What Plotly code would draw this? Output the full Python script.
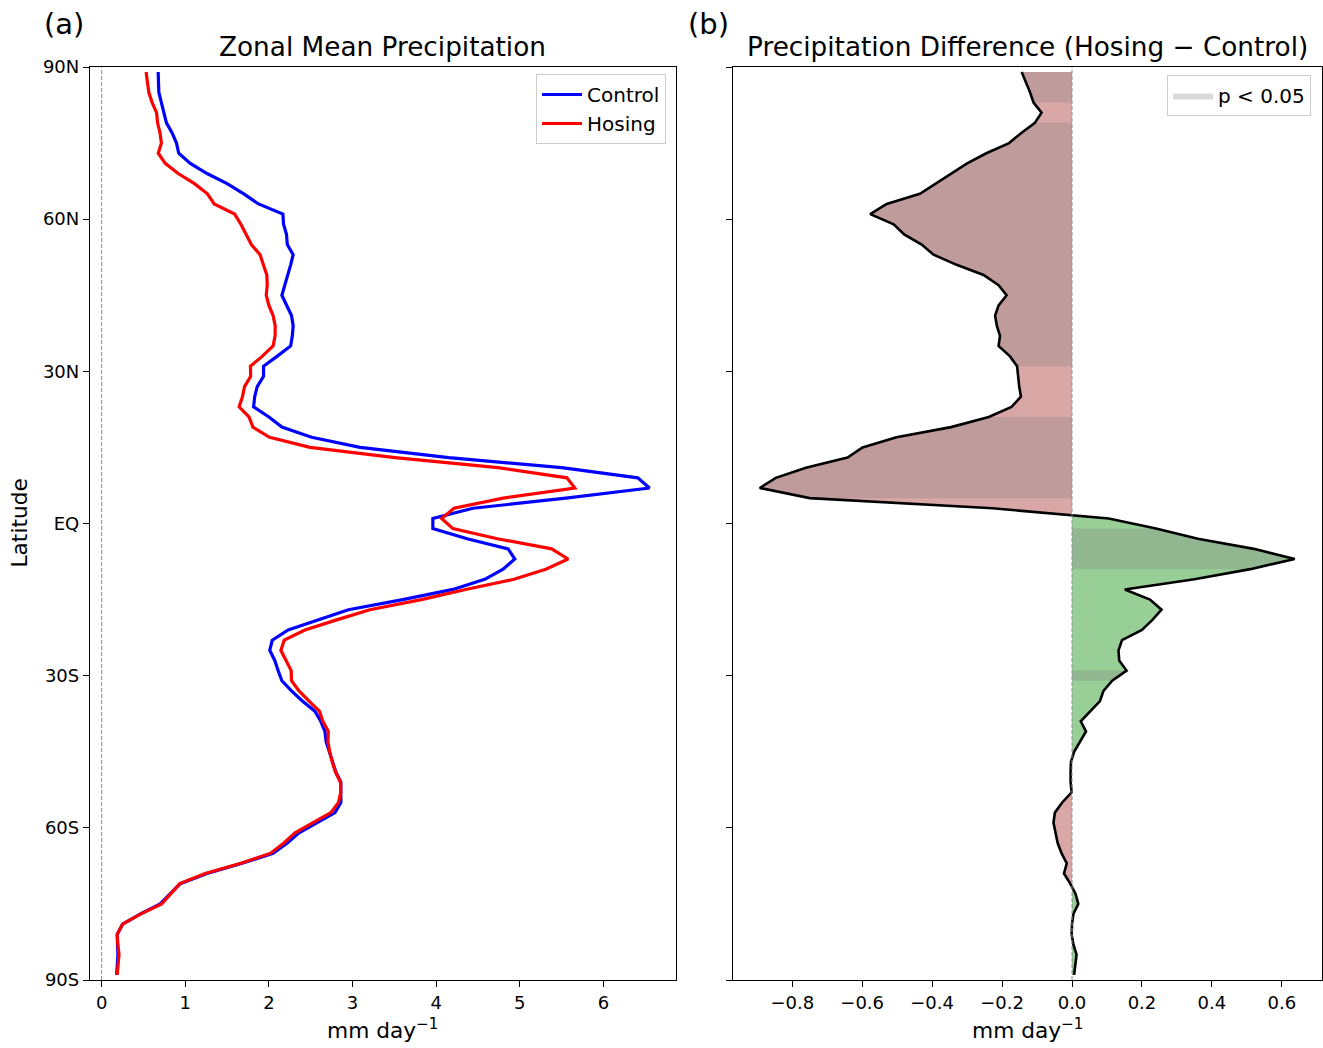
import numpy as np
import plotly.graph_objects as go

# ---------------- data ----------------
LATITUDES = list(range(-89, 90, 2))  # 2-degree grid, south -> north

CONTROL = [
    0.180, 0.187, 0.195, 0.190, 0.187, 0.250, 0.460, 0.700, 0.820, 0.940,   # -89..-71
    1.260, 1.680, 2.050, 2.220, 2.360, 2.580, 2.790, 2.860, 2.860, 2.860,   # -69..-51
    2.800, 2.760, 2.720, 2.684, 2.670, 2.620, 2.550, 2.400, 2.270, 2.155,   # -49..-31
    2.110, 2.070, 2.010, 2.040, 2.230, 2.580, 2.950, 3.600, 4.200, 4.580,   # -29..-11
    4.800, 4.940, 4.860, 4.370, 3.960, 3.960, 4.440, 5.550, 6.550, 6.410,   # -9..9
    5.500, 4.150, 3.090, 2.510, 2.155, 2.000, 1.817, 1.830, 1.860, 1.936,   # 11..29
    1.936, 2.100, 2.260, 2.280, 2.290, 2.270, 2.210, 2.155, 2.190, 2.228,   # 31..49
    2.260, 2.290, 2.220, 2.210, 2.175, 2.167, 1.876, 1.700, 1.500, 1.260,   # 51..69
    1.060, 0.922, 0.895, 0.843, 0.775, 0.744, 0.713, 0.684, 0.680, 0.676,   # 71..89
]

HOSING = [
    0.186, 0.196, 0.208, 0.194, 0.186, 0.250, 0.464, 0.718, 0.830, 0.935,
    1.237, 1.665, 2.020, 2.179, 2.312, 2.527, 2.741, 2.832, 2.859, 2.856,
    2.796, 2.757, 2.726, 2.706, 2.710, 2.645, 2.604, 2.480, 2.360, 2.270,
    2.266, 2.205, 2.143, 2.183, 2.430, 2.810, 3.206, 3.823, 4.351, 4.930,
    5.310, 5.577, 5.380, 4.730, 4.200, 4.065, 4.213, 4.800, 5.657, 5.563,
    4.739, 3.508, 2.491, 2.008, 1.809, 1.762, 1.644, 1.684, 1.709, 1.782,
    1.779, 1.922, 2.050, 2.074, 2.075, 2.050, 2.000, 1.968, 1.980, 1.975,
    1.930, 1.894, 1.790, 1.730, 1.665, 1.590, 1.346, 1.265, 1.110, 0.915,
    0.760, 0.677, 0.715, 0.698, 0.669, 0.657, 0.603, 0.564, 0.549, 0.532,
]

DIFF = [  # Hosing - Control
    0.006, 0.009, 0.013, 0.004, -0.001, 0.000, 0.004, 0.018, 0.010, -0.005,
    -0.023, -0.015, -0.030, -0.041, -0.048, -0.053, -0.049, -0.028, -0.001, -0.004,
    -0.004, -0.003, 0.006, 0.022, 0.040, 0.025, 0.054, 0.080, 0.090, 0.115,
    0.156, 0.135, 0.133, 0.143, 0.200, 0.230, 0.256, 0.223, 0.151, 0.350,
    0.510, 0.637, 0.520, 0.360, 0.240, 0.105, -0.227, -0.750, -0.893, -0.847,
    -0.761, -0.642, -0.599, -0.502, -0.346, -0.238, -0.173, -0.146, -0.151, -0.154,
    -0.157, -0.178, -0.210, -0.206, -0.215, -0.220, -0.210, -0.187, -0.210, -0.253,
    -0.330, -0.396, -0.430, -0.480, -0.510, -0.577, -0.530, -0.435, -0.390, -0.345,
    -0.300, -0.245, -0.180, -0.145, -0.106, -0.087, -0.110, -0.120, -0.131, -0.144,
]

SIGNIFICANT = [  # 1 where p < 0.05
    0, 0, 0, 0, 0, 0, 0, 0, 0, 0,
    0, 0, 0, 0, 0, 0, 0, 0, 0, 0,
    0, 0, 0, 0, 0, 0, 0, 0, 0, 1,
    1, 0, 0, 0, 0, 0, 0, 0, 0, 0,
    1, 1, 1, 1, 1, 0, 0, 1, 1, 1,
    1, 1, 1, 1, 1, 1, 0, 0, 0, 0,
    1, 1, 1, 1, 1, 1, 1, 1, 1, 1,
    1, 1, 1, 1, 1, 1, 1, 1, 1, 1,
    1, 1, 1, 1, 1, 0, 1, 1, 1, 1,
]

LAT_TICKS = [-90, -60, -30, 0, 30, 60, 90]
LAT_TICK_LABELS = ["90S", "60S", "30S", "EQ", "30N", "60N", "90N"]
X1_TICKS = [0, 1, 2, 3, 4, 5, 6]
X2_TICKS = [-0.8, -0.6, -0.4, -0.2, 0.0, 0.2, 0.4, 0.6]
X2_TICK_LABELS = ["\u22120.8", "\u22120.6", "\u22120.4", "\u22120.2", "0.0", "0.2", "0.4", "0.6"]

# ---------------- styling ----------------
W, H = 1323, 1048
M_T, M_B = 67, 68
PLOT_H = H - M_T - M_B
FONT = "DejaVu Sans"
RED_FILL = "rgb(218,167,167)"
GREEN_FILL = "rgb(151,207,151)"
SIG_FILL = "rgba(128,128,128,0.3)"


def px_x(p):
    return p / W


def px_y(p):
    return (H - M_B - p) / PLOT_H


fig = go.Figure()

# ---- panel (a) ----
fig.add_trace(go.Scatter(x=CONTROL, y=LATITUDES, mode="lines", name="Control",
                         line=dict(color="#0000ff", width=3.2), xaxis="x", yaxis="y",
                         legend="legend"))
fig.add_trace(go.Scatter(x=HOSING, y=LATITUDES, mode="lines", name="Hosing",
                         line=dict(color="#ff0000", width=3.2), xaxis="x", yaxis="y",
                         legend="legend"))

# ---- panel (b): sign-coloured fills (with zero-crossing interpolation) ----
lat = np.array(LATITUDES, dtype=float)
d = np.array(DIFF, dtype=float)
ya, xa = [lat[0]], [d[0]]
for i in range(1, len(d)):
    if d[i - 1] * d[i] < 0:
        t = d[i - 1] / (d[i - 1] - d[i])
        ya.append(lat[i - 1] + t * (lat[i] - lat[i - 1]))
        xa.append(0.0)
    ya.append(lat[i])
    xa.append(d[i])
xa = np.array(xa)
ya = np.array(ya)

fig.add_trace(go.Scatter(x=np.minimum(xa, 0), y=ya, mode="lines", fill="tozerox",
                         fillcolor=RED_FILL, line=dict(width=0), showlegend=False,
                         hoverinfo="skip", xaxis="x2", yaxis="y2"))
fig.add_trace(go.Scatter(x=np.maximum(xa, 0), y=ya, mode="lines", fill="tozerox",
                         fillcolor=GREEN_FILL, line=dict(width=0), showlegend=False,
                         hoverinfo="skip", xaxis="x2", yaxis="y2"))

# significance overlay
sig = np.array(SIGNIFICANT, dtype=bool)
runs = []
i = 0
n = len(sig)
while i < n:
    if sig[i]:
        j = i
        while j + 1 < n and sig[j + 1]:
            j += 1
        if j > i:
            runs.append((i, j))
        i = j + 1
    else:
        i += 1

for k, (a, b) in enumerate(runs):
    fig.add_trace(go.Scatter(x=d[a:b + 1], y=lat[a:b + 1], mode="lines", fill="tozerox",
                             fillcolor=SIG_FILL, line=dict(width=0),
                             name="p < 0.05", showlegend=(k == 0), legend="legend2",
                             hoverinfo="skip", xaxis="x2", yaxis="y2"))

fig.add_trace(go.Scatter(x=DIFF, y=LATITUDES, mode="lines", line=dict(color="black", width=2.6),
                         showlegend=False, xaxis="x2", yaxis="y2"))

# zero reference lines
for xr, yr in (("x", "y domain"), ("x2", "y2 domain")):
    fig.add_shape(type="line", xref=xr, yref=yr, x0=0, x1=0, y0=0, y1=1,
                  line=dict(color="#8c8c8c", width=1, dash="4px,2px"), layer="above")

axis_common = dict(showline=True, linecolor="black", linewidth=1.3, mirror=True,
                   ticks="outside", ticklen=6, tickwidth=1.3, tickcolor="black",
                   showgrid=False, zeroline=False, tickfont=dict(size=18, family=FONT, color="black"))

fig.update_layout(
    width=W, height=H,
    margin=dict(l=0, r=0, t=M_T, b=M_B),
    plot_bgcolor="white", paper_bgcolor="white",
    font=dict(family=FONT, size=18, color="black"),
    xaxis=dict(domain=[px_x(90), px_x(676)], range=[-0.139, 6.867], tickvals=X1_TICKS,
               anchor="y", **axis_common),
    yaxis=dict(domain=[0, 1], range=[-90, 90], tickvals=LAT_TICKS, ticktext=LAT_TICK_LABELS,
               anchor="x", **axis_common),
    xaxis2=dict(domain=[px_x(733), px_x(1321.5)], range=[-0.9695, 0.7135], tickvals=X2_TICKS,
                ticktext=X2_TICK_LABELS, anchor="y2", **axis_common),
    yaxis2=dict(domain=[0, 1], range=[-90, 90], tickvals=LAT_TICKS, showticklabels=False,
                anchor="x2", **axis_common),
    legend=dict(x=px_x(666), xanchor="right", y=px_y(74), yanchor="top",
                bgcolor="white", bordercolor="#cccccc", borderwidth=1,
                font=dict(size=20, family=FONT), itemwidth=40),
    legend2=dict(x=px_x(1311), xanchor="right", y=px_y(75), yanchor="top",
                 bgcolor="white", bordercolor="#cccccc", borderwidth=1,
                 font=dict(size=20, family=FONT), itemwidth=40),
)

ann = []
ann.append(dict(text="(a)", x=px_x(64), y=px_y(24), xref="paper", yref="paper",
                showarrow=False, font=dict(size=29), xanchor="center", yanchor="middle"))
ann.append(dict(text="(b)", x=px_x(708), y=px_y(24), xref="paper", yref="paper",
                showarrow=False, font=dict(size=29), xanchor="center", yanchor="middle"))
ann.append(dict(text="Zonal Mean Precipitation", x=px_x(383), y=px_y(47), xref="paper", yref="paper",
                showarrow=False, font=dict(size=26.3), xanchor="center", yanchor="middle"))
ann.append(dict(text="Precipitation Difference (Hosing \u2212 Control)", x=px_x(1027.5), y=px_y(47),
                xref="paper", yref="paper", showarrow=False, font=dict(size=26.3),
                xanchor="center", yanchor="middle"))
ann.append(dict(text="Latitude", x=px_x(19), y=px_y(523.5), xref="paper", yref="paper",
                showarrow=False, font=dict(size=21.7), textangle=-90,
                xanchor="center", yanchor="middle"))
for cx in (383, 1027.5):
    ann.append(dict(text="mm day<sup>\u22121</sup>", x=px_x(cx), y=px_y(1029), xref="paper", yref="paper",
                    showarrow=False, font=dict(size=21.7), xanchor="center", yanchor="middle"))
fig.update_layout(annotations=ann)

fig.write_html("out.html",
               config={"displayModeBar": False},
               post_script="document.body.style.margin='0px';document.body.style.overflow='hidden';")
